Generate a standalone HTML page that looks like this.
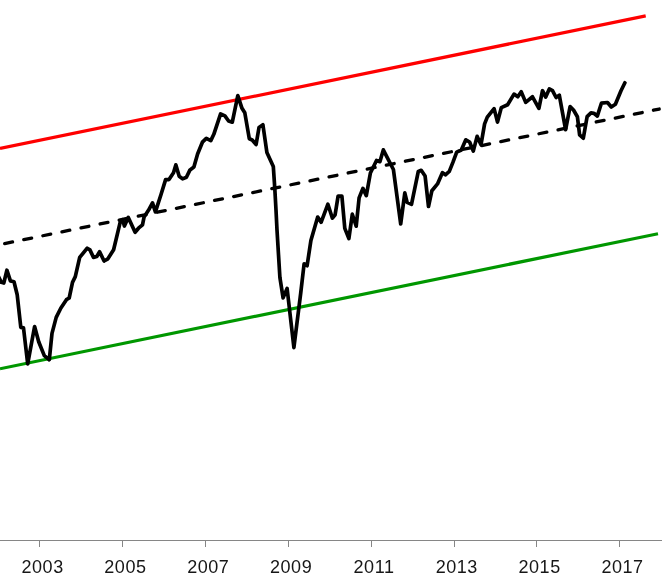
<!DOCTYPE html>
<html><head><meta charset="utf-8"><title>Chart</title>
<style>
html,body{margin:0;padding:0;background:#fff;}
body{width:663px;height:578px;overflow:hidden;}
svg{display:block;}
text{font-family:"Liberation Sans",sans-serif;font-size:18px;fill:#161616;text-anchor:middle;letter-spacing:0.55px;}
</style></head><body>
<svg width="663" height="578" viewBox="0 0 663 578">
<rect width="663" height="578" fill="#fff"/>
<line x1="0" y1="148.4" x2="645.7" y2="15.9" stroke="#ff0000" stroke-width="3.2"/>
<line x1="0" y1="368.8" x2="658" y2="233.7" stroke="#009700" stroke-width="3.2"/>
<line x1="4.7" y1="243.6" x2="659.2" y2="109.03" stroke="#000" stroke-width="3.3" stroke-dasharray="8.0 11.48" stroke-linecap="round"/>
<polyline fill="none" stroke="#000" stroke-width="3.7" stroke-linejoin="round" stroke-linecap="round" points="-2.0,275.7 1.3,282.3 3.8,283.0 6.9,270.2 10.4,280.9 14.0,281.7 17.2,294.7 20.8,327.4 23.5,327.9 27.7,363.9 34.6,326.5 38.7,341.7 44.3,355.6 49.3,359.7 52.0,333.4 56.2,317.4 60.9,308.0 66.4,299.7 69.2,298.0 72.5,282.3 75.3,276.7 79.7,257.4 87.2,248.2 89.9,249.9 93.5,257.4 96.8,256.5 99.6,251.8 104.1,261.0 107.9,258.8 113.6,249.7 120.4,221.4 122.6,219.6 124.4,226.0 128.3,217.4 135.1,232.3 138.5,228.2 142.5,224.8 144.1,216.9 148.6,210.1 152.5,202.9 155.4,211.9 161.1,194.3 165.6,179.6 169.0,179.6 173.5,172.8 175.8,164.9 179.2,176.2 182.6,178.9 186.4,177.3 190.0,169.9 193.9,167.1 197.6,154.0 202.4,142.2 206.3,138.4 210.8,140.6 213.8,134.3 220.6,113.9 224.9,115.9 228.6,121.0 232.3,122.2 237.8,95.6 242.0,108.3 244.8,112.8 249.3,138.8 252.2,140.0 256.1,144.5 259.0,127.5 262.9,124.8 266.9,152.4 273.3,166.4 274.8,188.6 276.0,210.0 277.0,230.0 279.9,277.5 283.1,297.9 287.1,288.4 293.9,347.6 300.7,293.3 304.1,263.9 307.1,265.7 310.9,240.5 317.7,217.1 321.1,222.3 327.9,204.2 332.4,218.2 335.1,214.8 338.1,196.1 341.9,196.1 344.8,228.4 348.9,238.6 352.3,214.2 356.2,226.2 359.1,197.9 362.9,188.4 366.3,195.6 370.4,173.0 376.5,160.5 379.9,161.7 383.3,149.9 393.4,169.5 400.7,223.9 404.8,192.9 407.1,202.4 411.5,204.3 418.3,171.4 421.2,170.3 425.1,176.0 428.5,206.5 431.9,190.7 437.5,183.9 442.5,172.6 445.4,174.8 449.3,171.4 452.9,162.4 456.7,152.2 461.3,150.0 465.8,139.8 469.6,142.0 473.3,151.1 477.1,136.4 481.0,144.8 484.6,123.9 487.3,117.1 494.1,108.6 497.5,122.1 501.3,107.6 507.6,104.7 514.0,94.1 517.8,96.8 521.2,91.8 525.7,102.4 532.5,96.8 538.9,108.4 542.5,90.7 545.7,97.1 549.3,88.9 552.5,90.7 556.1,97.5 559.3,95.2 565.6,129.6 570.1,106.6 573.5,110.0 577.4,116.7 579.6,134.8 583.3,138.2 587.1,116.7 591.0,112.9 593.9,113.3 597.3,116.1 601.4,103.2 607.5,102.5 611.3,107.0 615.4,104.3 621.0,90.7 624.9,82.8"/>
<g stroke="#868686" stroke-width="1"><line x1="0" y1="540.5" x2="662" y2="540.5"/><line x1="39.5" y1="540.5" x2="39.5" y2="547"/><line x1="122.5" y1="540.5" x2="122.5" y2="547"/><line x1="205.5" y1="540.5" x2="205.5" y2="547"/><line x1="288.5" y1="540.5" x2="288.5" y2="547"/><line x1="371.5" y1="540.5" x2="371.5" y2="547"/><line x1="454.5" y1="540.5" x2="454.5" y2="547"/><line x1="536.5" y1="540.5" x2="536.5" y2="547"/><line x1="619.5" y1="540.5" x2="619.5" y2="547"/></g>
<text x="42.6" y="572.8">2003</text><text x="125.4" y="572.8">2005</text><text x="208.3" y="572.8">2007</text><text x="291.1" y="572.8">2009</text><text x="374.0" y="572.8">2011</text><text x="456.8" y="572.8">2013</text><text x="539.6" y="572.8">2015</text><text x="622.5" y="572.8">2017</text>
</svg>
</body></html>
